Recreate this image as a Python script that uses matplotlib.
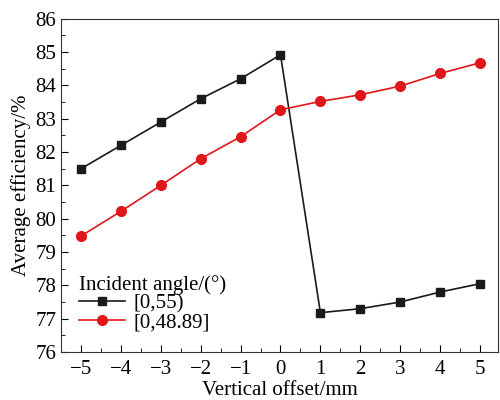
import matplotlib
matplotlib.use("Agg")
import matplotlib.pyplot as plt
from matplotlib.ticker import MultipleLocator

plt.rcParams['font.family'] = ['Liberation Serif', 'DejaVu Serif']

offset = [-5, -4, -3, -2, -1, 0, 1, 2, 3, 4, 5]
eff_55 = [81.5, 82.2, 82.9, 83.6, 84.2, 84.92, 77.18, 77.3, 77.5, 77.8, 78.05]
eff_4889 = [79.48, 80.22, 81.0, 81.8, 82.46, 83.27, 83.52, 83.72, 83.98, 84.36, 84.68]

fig = plt.figure(figsize=(5, 4), dpi=100)
ax = fig.add_axes([0.122, 0.12, 0.874, 0.833])

ax.plot(offset, eff_55, color='#1a1a1a', marker='s', markersize=6, lw=1.2, label='[0,55)')
ax.plot(offset, eff_4889, color='#e0161b', marker='o', markersize=7, lw=1.2, label='[0,48.89]')

ax.set_xlim(-5.5, 5.45)
ax.set_ylim(76, 86)
ax.xaxis.set_minor_locator(MultipleLocator(0.5))
ax.yaxis.set_major_locator(MultipleLocator(1))
ax.yaxis.set_minor_locator(MultipleLocator(0.5))
ax.tick_params(which='both', direction='in', top=False, right=False, labelsize=15)
ax.tick_params(which='major', length=5)
ax.tick_params(which='minor', length=3)
ax.tick_params(axis='x', pad=6)
ax.set_xticks(offset)
ax.set_xticklabels([('\u2212%d' % -v) if v < 0 else str(v) for v in offset])

ax.set_xlabel('Vertical offset/mm', fontsize=15, labelpad=1)
ax.set_ylabel('Average efficiency/%', fontsize=15, labelpad=3)
for s in ax.spines.values():
    s.set_color('#333333')

leg = ax.legend(title='Incident angle/(°)', loc='lower left', frameon=False,
                fontsize=15, title_fontsize=15, handlelength=2.2,
                bbox_to_anchor=(0.022, 0.035), borderaxespad=0.0,
                labelspacing=-0.05, handletextpad=0.4)
leg._legend_box.align = 'left'

fig.savefig('out.png', dpi=100)
